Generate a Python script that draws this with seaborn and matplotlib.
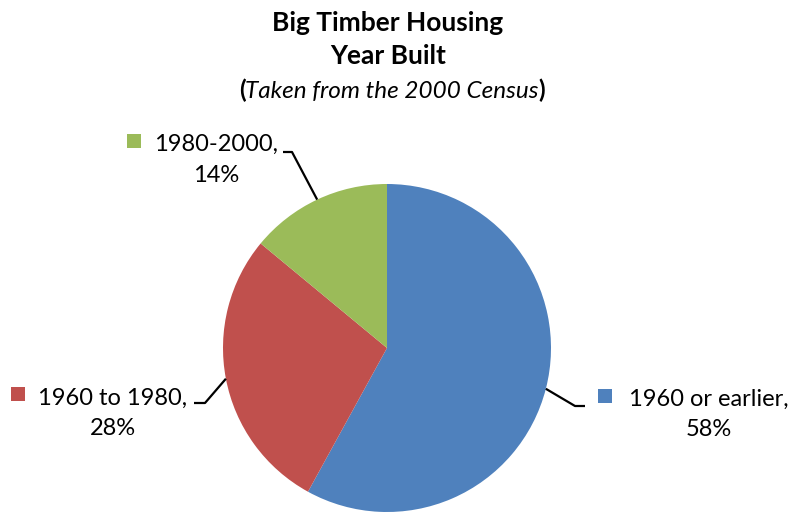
import numpy as np
import seaborn as sns
import matplotlib.pyplot as plt

# data
categories = ["1960 or earlier", "1960 to 1980", "1980-2000"]
shares = [58, 28, 14]
colors = ["#4F81BD", "#C0504D", "#9BBB59"]

sns.set_style("white")
plt.rcParams["font.family"] = ["Lato", "DejaVu Sans"]
plt.rcParams["text.color"] = "black"

fig = plt.figure(figsize=(7.96, 5.12), dpi=100)
ax = fig.add_axes([0, 0, 1, 1])

center = (387, 164)
radius = 164
wedges, _ = ax.pie(shares, colors=colors, startangle=90, counterclock=False,
                   center=center, radius=radius, frame=True,
                   wedgeprops=dict(linewidth=0))
ax.set_xlim(0, 796)
ax.set_ylim(0, 512)
ax.set_aspect("equal")
ax.axis("off")

# label layout: (text centre, legend square, elbow, line end)
layout = {
    "1960 or earlier": dict(text=(709, 97.5), key=(605, 116), elbow=(575, 106), end=(585, 106)),
    "1960 to 1980": dict(text=(113, 98.5), key=(18, 118), elbow=(205, 109), end=(194, 109)),
    "1980-2000": dict(text=(216, 352), key=(134, 371), elbow=(292, 360), end=(283, 360)),
}

for w, cat, val, col in zip(wedges, categories, shares, colors):
    lay = layout[cat]
    mid = np.deg2rad((w.theta1 + w.theta2) / 2)
    sx = center[0] + radius * np.cos(mid)
    sy = center[1] + radius * np.sin(mid)
    ax.plot([sx, lay["elbow"][0], lay["end"][0]],
            [sy, lay["elbow"][1], lay["end"][1]],
            color="black", lw=1.6, solid_capstyle="butt")
    ax.scatter([lay["key"][0]], [lay["key"][1]], marker="s", s=110,
               color=col, linewidths=0)
    ax.text(lay["text"][0], lay["text"][1], f"{cat},\n{val}%",
            ha="center", va="center", multialignment="center",
            fontsize=17, linespacing=1.55, color="black")

# title
ax.text(388, 489, "Big Timber Housing", ha="center", va="center",
        fontsize=19, fontweight="bold", color="black")
ax.text(388, 456, "Year Built", ha="center", va="center",
        fontsize=19, fontweight="bold", color="black")
sub = ax.text(392, 414, "Taken from the 2000 Census", ha="center",
              va="baseline", fontsize=17.5, fontstyle="italic", color="black")
ax.annotate("(", xy=(0, 0), xycoords=sub, ha="right", va="bottom",
            fontsize=17.5, fontweight="bold", color="black")
ax.annotate(")", xy=(1, 0), xycoords=sub, ha="left", va="bottom",
            fontsize=17.5, fontweight="bold", color="black")

fig.savefig("out.png", dpi=100)
